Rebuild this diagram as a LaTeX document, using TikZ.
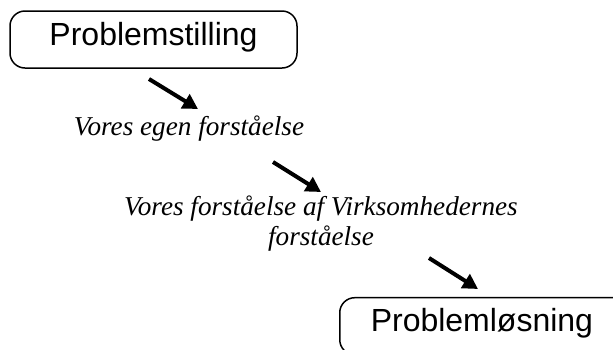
\documentclass[tikz,border=0pt]{standalone}
\usepackage{fontspec}
\setmainfont{Liberation Serif}
\newfontfamily\boxfont{Liberation Sans}
\usetikzlibrary{arrows.meta}
\tikzset{
  stagebox/.style={draw, line width=1.5pt, rounded corners=15pt, minimum width=287pt, minimum height=57pt, inner sep=0pt, text height=23pt, text depth=12pt, font=\boxfont\fontsize{32}{38}\selectfont},
  note/.style={inner sep=0pt, font=\itshape\fontsize{27.2}{30}\selectfont, align=center},
  flow/.style={line width=4pt, -{Triangle[length=15pt,width=16pt]}}
}
\begin{document}
\begin{tikzpicture}[x=1pt,y=-1pt]
\path[use as bounding box, clip] (0,0) rectangle (613,349);
\node[stagebox] (ps) at (153.5,39.5) {Problemstilling};
\node[note, anchor=base] (t1) at (189,135) {Vores egen forståelse};
\node[note, anchor=center] (t2) at (321,224) {Vores forståelse af Virksomhedernes\\forståelse};
\node[stagebox, minimum width=0pt, inner xsep=31pt, text width=253pt, align=left, anchor=west] (pl) at (339,326.2) {Problemløsning};
\coordinate (a1s) at (149,79);
\coordinate (a1e) at (198,109);
\coordinate (a2s) at (273,162);
\coordinate (a2e) at (321,192);
\coordinate (a3s) at (429,258);
\coordinate (a3e) at (478,289);
\draw[flow] (a1s) -- (a1e);
\draw[flow] (a2s) -- (a2e);
\draw[flow] (a3s) -- (a3e);
\end{tikzpicture}
\end{document}
